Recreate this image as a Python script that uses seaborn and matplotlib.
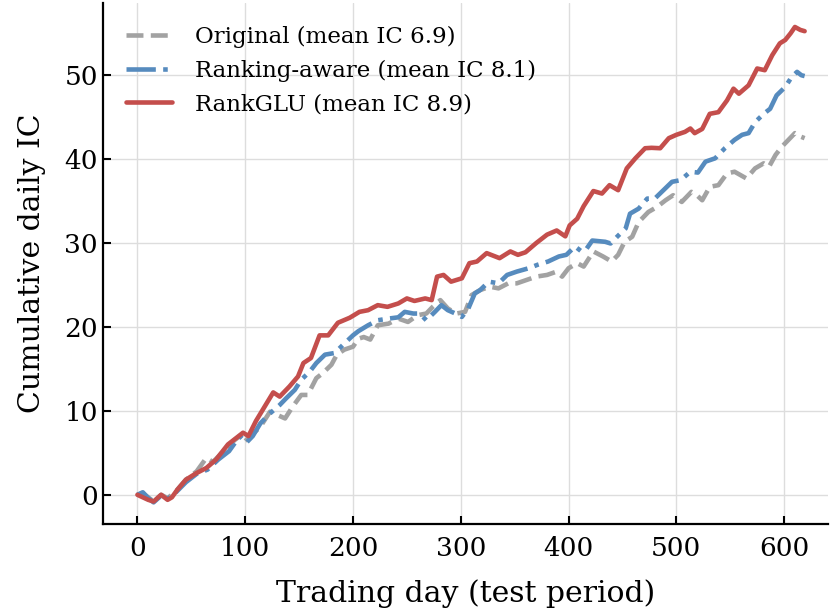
import numpy as np
import pandas as pd
import matplotlib
matplotlib.use("Agg")
import matplotlib.pyplot as plt
import seaborn as sns

#Data (trading day, cumulative daily IC)
orig_days = [0, 5, 10, 15, 22, 28, 35, 45, 55, 64, 70, 80, 90, 95, 100, 104, 114, 123,
             130, 137, 144, 152, 158, 166, 172, 180, 185, 192, 200, 205, 210, 216, 223,
             233, 242, 251, 260, 268, 274, 281, 288, 296, 304, 310, 318, 327, 335, 344,
             352, 361, 370, 380, 389, 394, 400, 408, 414, 423, 432, 440, 446, 452, 459,
             465, 474, 482, 490, 497, 505, 514, 519, 524, 531, 539, 547, 554, 565, 573,
             581, 586, 592, 598, 604, 610, 615, 619]
orig_ic = [0, 0.2, -0.3, -0.8, 0.0, -0.4, 0.3, 1.8, 2.8, 4.4, 3.9, 5.2, 6.5, 7.0, 6.4, 6.9,
           8.1, 9.9, 9.5, 9.1, 10.5, 11.9, 11.9, 13.9, 14.5, 15.5, 16.7, 17.3, 17.65, 18.6,
           18.8, 18.5, 20.2, 20.4, 21.0, 20.6, 21.4, 21.6, 22.4, 23.2, 22.2, 21.6, 21.8,
           23.8, 24.4, 24.8, 24.6, 25.2, 25.2, 25.6, 26.0, 26.2, 26.6, 26.0, 27.0, 27.6,
           27.2, 29.0, 28.4, 27.8, 28.6, 30.15, 30.75, 32.5, 33.7, 34.3, 35.1, 35.7, 34.9,
           36.1, 35.7, 35.1, 36.7, 36.9, 38.3, 38.5, 37.7, 38.9, 39.5, 39.1, 40.5, 41.5,
           42.3, 43.1, 42.7, 42.5]

rank_days = [0, 5, 10, 15, 22, 28, 35, 45, 55, 65, 75, 85, 95, 101, 107, 114, 123, 132,
             138, 146, 152, 160, 166, 174, 183, 191, 200, 205, 214, 223, 233, 242, 248,
             256, 262, 268, 276, 282, 288, 295, 301, 307, 313, 318, 326, 335, 343, 352,
             363, 371, 381, 391, 398, 406, 412, 416, 422, 434, 439, 445, 453, 457, 465,
             473, 480, 488, 496, 504, 513, 520, 527, 536, 545, 554, 561, 567, 573, 581,
             587, 593, 601, 607, 612, 616, 619]
rank_ic = [0, 0.3, -0.4, -0.9, -0.1, -0.5, 0.2, 1.5, 2.5, 3.0, 4.2, 5.2, 7.0, 6.2, 7.0,
           8.5, 9.7, 10.7, 11.5, 12.5, 13.7, 14.7, 15.7, 16.7, 16.9, 17.9, 19.0, 19.5,
           20.2, 20.8, 21.0, 21.15, 21.8, 21.6, 21.6, 20.8, 21.8, 22.6, 22.0, 21.6, 21.2,
           22.2, 24.0, 24.4, 25.4, 25.2, 26.2, 26.6, 27.0, 27.4, 27.8, 28.4, 28.6, 29.6,
           29.0, 29.2, 30.3, 30.15, 29.95, 30.75, 31.75, 33.5, 34.1, 35.3, 35.3, 36.3,
           37.3, 37.5, 38.5, 38.4, 39.7, 40.1, 41.3, 42.3, 42.9, 43.1, 44.4, 45.4, 46.0,
           47.6, 48.6, 49.8, 50.4, 50.0, 49.9]

glu_days = [0, 5, 10, 15, 22, 28, 32, 37, 45, 55, 64, 73, 84, 92, 98, 103, 110, 118, 126,
            132, 141, 149, 154, 161, 169, 177, 186, 197, 206, 214, 223, 232, 242, 250, 257,
            267, 273, 278, 284, 291, 301, 308, 315, 324, 336, 346, 353, 360, 370, 380, 389,
            397, 401, 408, 414, 423, 431, 438, 446, 454, 462, 471, 477, 485, 493, 500, 508,
            513, 517, 524, 531, 539, 547, 553, 558, 567, 575, 582, 589, 596, 601, 606, 610,
            615, 619]
glu_ic = [0, -0.3, -0.6, -0.8, 0.0, -0.6, -0.3, 0.6, 1.8, 2.6, 3.2, 4.2, 6.0, 6.8, 7.4,
          7.0, 8.8, 10.5, 12.2, 11.7, 12.9, 14.1, 15.7, 16.3, 19.0, 19.0, 20.5, 21.1, 21.8,
          22.0, 22.6, 22.4, 22.8, 23.4, 23.1, 23.4, 23.2, 26.0, 26.2, 25.4, 25.8, 27.6, 27.8,
          28.8, 28.2, 29.0, 28.6, 28.9, 30.0, 31.0, 31.5, 30.8, 32.1, 32.9, 34.4, 36.2, 35.9,
          36.9, 36.3, 38.9, 40.1, 41.3, 41.35, 41.3, 42.5, 42.9, 43.25, 43.65, 43.1, 43.6,
          45.4, 45.6, 47.0, 48.4, 47.8, 48.8, 50.8, 50.6, 52.4, 53.8, 54.2, 55.0, 55.75, 55.4,
          55.25]

labels = ["Original (mean IC 6.9)", "Ranking-aware (mean IC 8.1)", "RankGLU (mean IC 8.9)"]
colors = ["#a2a2a2", "#568bbe", "#c44e4c"]
styles = ["--", "-.", "-"]

sns.set_style("ticks")
plt.rcParams["font.family"] = ["DejaVu Serif"]
for k in ["text.color", "axes.labelcolor", "xtick.color", "ytick.color", "axes.edgecolor"]:
    plt.rcParams[k] = "black"

fig, ax = plt.subplots(figsize=(8.3, 6.14), dpi=100)
fig.subplots_adjust(left=0.124, right=0.998, top=0.995, bottom=0.147)

series = [(orig_days, orig_ic), (rank_days, rank_ic), (glu_days, glu_ic)]
for (d, v), lab, col, ls in zip(series, labels, colors, styles):
    df = pd.DataFrame({"day": d, "ic": v})
    sns.lineplot(data=df, x="day", y="ic", ax=ax, color=col, linestyle=ls,
                 linewidth=3.3, label=lab)

ax.set_xlim(-32, 641)
ax.set_ylim(-3.45, 58.6)
ax.grid(True, color="#dddddd", linewidth=1)
ax.set_axisbelow(True)
sns.despine(ax=ax)
for s in ["left", "bottom"]:
    ax.spines[s].set_linewidth(1.6)
ax.tick_params(direction="in", length=6, width=1.5, labelsize=19)
ax.tick_params(axis="x", pad=9)
ax.set_xticks([0, 100, 200, 300, 400, 500, 600])
ax.set_yticks([0, 10, 20, 30, 40, 50])
ax.set_xlabel("Trading day (test period)", fontsize=21.5, labelpad=13)
ax.set_ylabel("Cumulative daily IC", fontsize=21.5, labelpad=13)
ax.legend(loc="upper left", frameon=False, fontsize=16.5, handlelength=2.0,
          handletextpad=1.0, borderaxespad=0.6)

fig.savefig("out.png", dpi=100)
